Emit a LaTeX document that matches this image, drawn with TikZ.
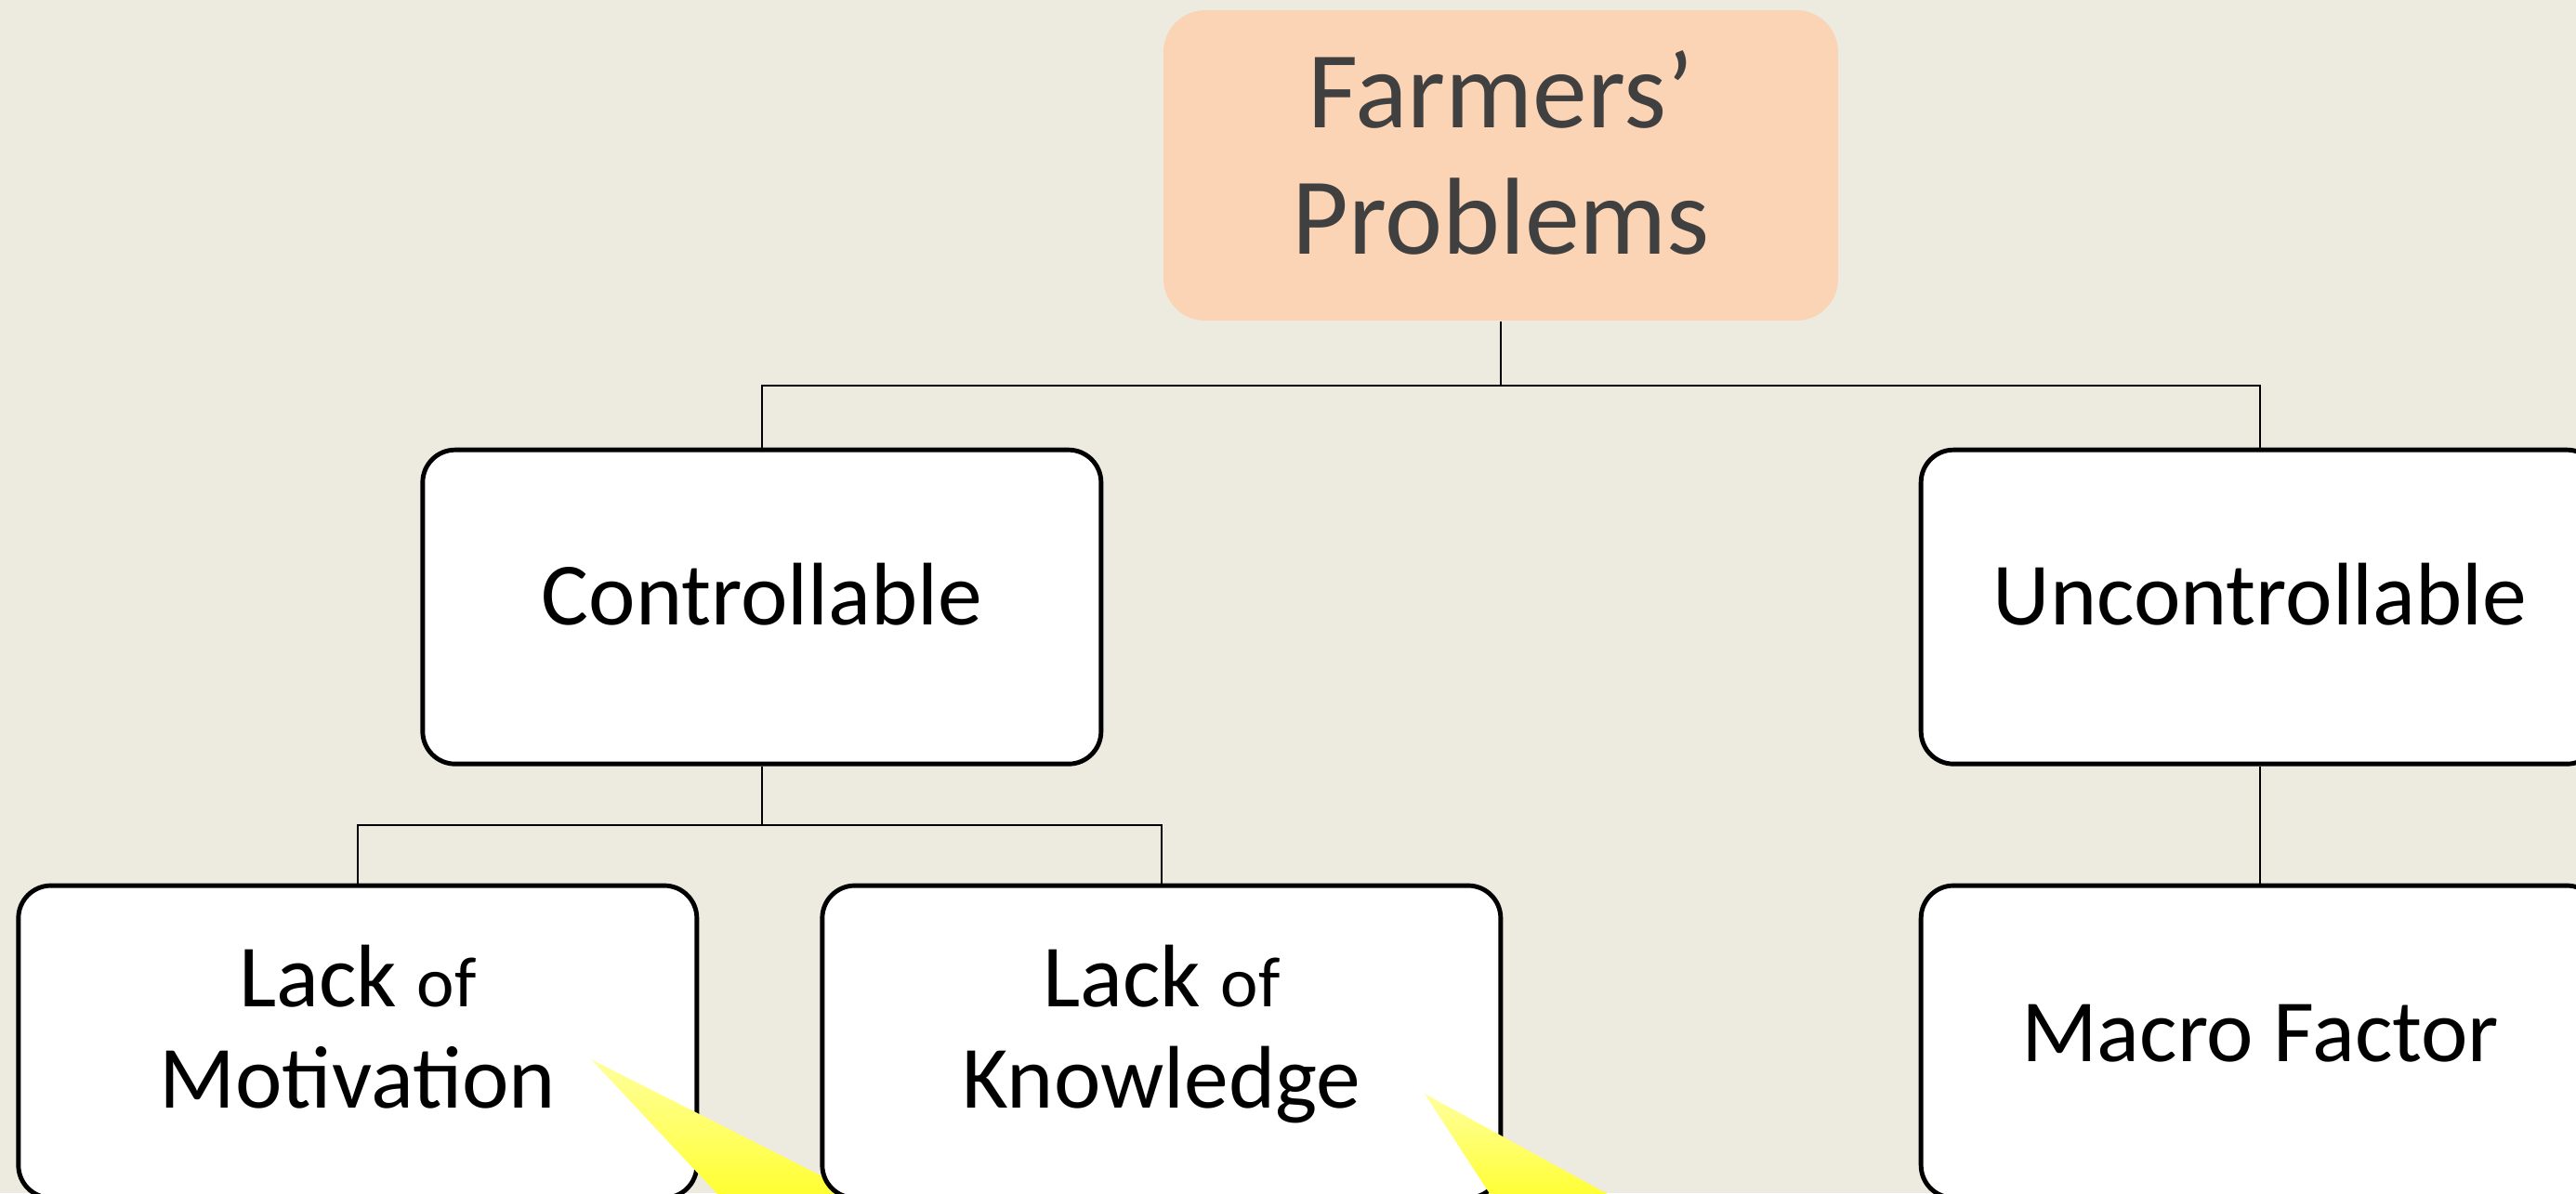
\documentclass[tikz,border=0pt]{standalone}
\usepackage{fontspec}
\setmainfont{Carlito}
\usetikzlibrary{positioning}
\definecolor{slidebg}{RGB}{237,234,224}
\definecolor{peach}{RGB}{251,212,181}
\definecolor{darktext}{RGB}{64,64,64}
\definecolor{spotyellow}{RGB}{255,255,40}
\newcommand{\smallof}{{\fontsize{21.8}{31}\selectfont of}}

\begin{document}
\begin{tikzpicture}[
    box/.style={rectangle, rounded corners=0.35cm, draw=black, line width=1.4pt, fill=white, minimum width=7.3cm, minimum height=3.38cm, align=center, text depth=0.28cm, font=\fontsize{27.2}{31}\selectfont},
    lowbox/.style={box, minimum height=3.36cm, text depth=0.32cm},
    link/.style={draw=black, line width=0.6pt}
]
    \useasboundingbox (0,0) rectangle (27.72,-12.84);
    \clip (0,0) rectangle (27.72,-12.84);
    \fill[slidebg] (0,0) rectangle (27.72,-12.84);

    \node (problems) [rectangle, rounded corners=0.45cm, fill=peach, minimum width=7.26cm, minimum height=3.34cm, align=center, text=darktext, text depth=0.28cm, font=\fontsize{33.5}{38.5}\selectfont] at (16.15,-1.78) {Farmers’\\Problems};
    \node (ctrl) [box, below left=1.36cm and 0.64cm of problems] {Controllable};
    \node (unctrl) [box, below right=1.36cm and 0.86cm of problems] {Uncontrollable};

    \node (motiv) [lowbox, below=1.26cm of ctrl, xshift=-4.35cm] {Lack \smallof\\Motivation};
    \shade[top color=spotyellow!45, bottom color=spotyellow] (6.36,-11.40) -- (7.86,-13.0) -- (9.52,-13.0) -- cycle;
    \node (knowl) [lowbox, below=1.26cm of ctrl, xshift=4.30cm] {Lack \smallof\\Knowledge};
    \shade[top color=spotyellow!45, bottom color=spotyellow] (15.33,-11.77) -- (16.13,-13.0) -- (17.57,-13.0) -- cycle;
    \node (macro) [lowbox, below=1.26cm of unctrl, text depth=0.18cm] {Macro Factor};

    \draw[link] (problems.south) -- ++(0,-0.69) coordinate (split1);
    \draw[link] (split1) -| (ctrl.north);
    \draw[link] (split1) -| (unctrl.north);
    \draw[link] (ctrl.south) -- ++(0,-0.63) coordinate (split2);
    \draw[link] (split2) -| (motiv.north);
    \draw[link] (split2) -| (knowl.north);
    \draw[link] (unctrl) -- (macro);
\end{tikzpicture}
\end{document}
